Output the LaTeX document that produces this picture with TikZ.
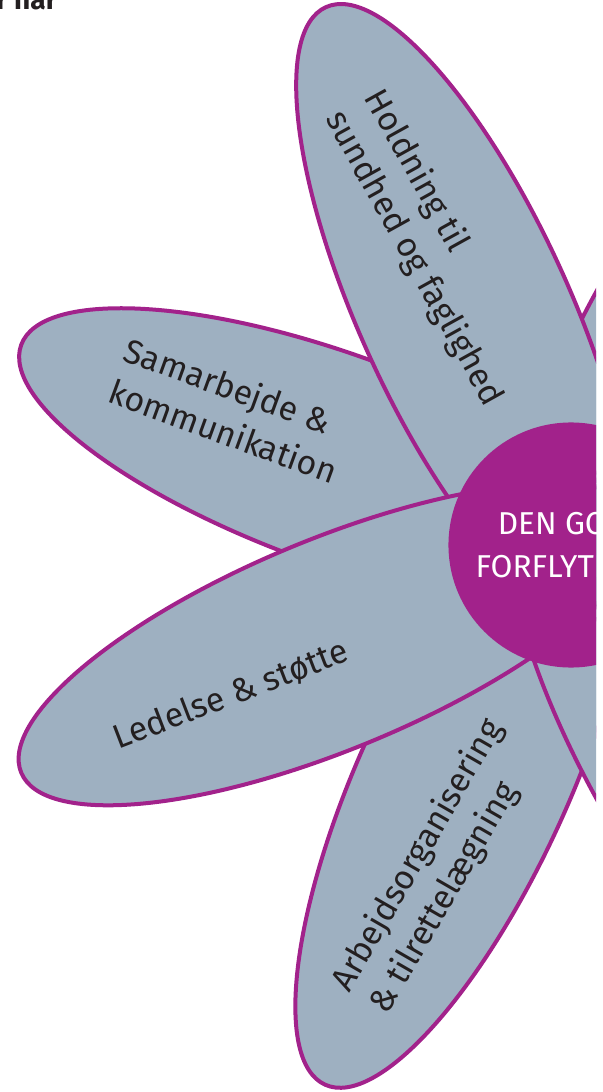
\documentclass[tikz,border=0pt]{standalone}
\usepackage{fontspec}
\setmainfont{Fira Sans}
\usepackage{xcolor}
\usepackage{tikz}
\usetikzlibrary{shapes.geometric, positioning}
\definecolor{flowerpurple}{RGB}{162, 34, 139}
\definecolor{petalblue}{RGB}{158, 176, 193}
\definecolor{darktext}{RGB}{35, 31, 32}

\begin{document}
\begin{tikzpicture}[
    x=0.025cm, y=0.025cm,
    petal/.style={ellipse, draw=flowerpurple, fill=petalblue, line width=0.1cm,
                  minimum width=16.75cm, minimum height=5.25cm, inner sep=0pt},
    hub/.style={circle, fill=flowerpurple, minimum size=6.125cm, inner sep=0pt},
    petaltext/.style={align=left, text=darktext, inner sep=0pt,
                      font=\fontsize{24}{31.5}\selectfont},
    hubtext/.style={align=center, text=white, inner sep=0pt,
                    font=\fontsize{22.5}{30.5}\selectfont}
]

% Frame
\fill[white] (-571,-547) rectangle (32,545);
\useasboundingbox (-571,-547) rectangle (32,545);
\clip (-571,-547) rectangle (25,545);

% Heading (cut off)
\node[anchor=base west, inner sep=0pt, text=darktext,
      font=\fontsize{20}{22}\selectfont\bfseries] (heading) at (-575,535) {r har};

% Back petals
\node[petal, rotate=60] (p60) at (60:255) {};
\node[petal, rotate=160] (samarbejde) at (160:250) {};
\node[petal, rotate=245.5] (arbejde) at (245.5:258) {};

% Front petals
\node[petal, rotate=114.5] (holdning) at (114.5:256) {};
\node[petal, rotate=202.5] (ledelse) at (202.5:260) {};
\node[petal, rotate=300] (p300) at (300:255) {};

% Centre
\node[hub] (hub) at (0,0) {};
\node[hubtext] (title) at (hub.center) {DEN GODE\\FORFLYTNING};

% Petal texts
\node[petaltext, rotate=-61] (tholdning) at (-138,297) {Holdning til\\sundhed og faglighed};
\node[petaltext, rotate=-20] (tsamarbejde) at (-340,135) {Samarbejde \&\\kommunikation};
\node[petaltext, rotate=21] (tledelse) at (-340,-150) {Ledelse \& støtte};
\node[petaltext, rotate=60] (tarbejde) at (-134,-322) {Arbejdsorganisering\\\& tilrettelægning};

\end{tikzpicture}
\end{document}
